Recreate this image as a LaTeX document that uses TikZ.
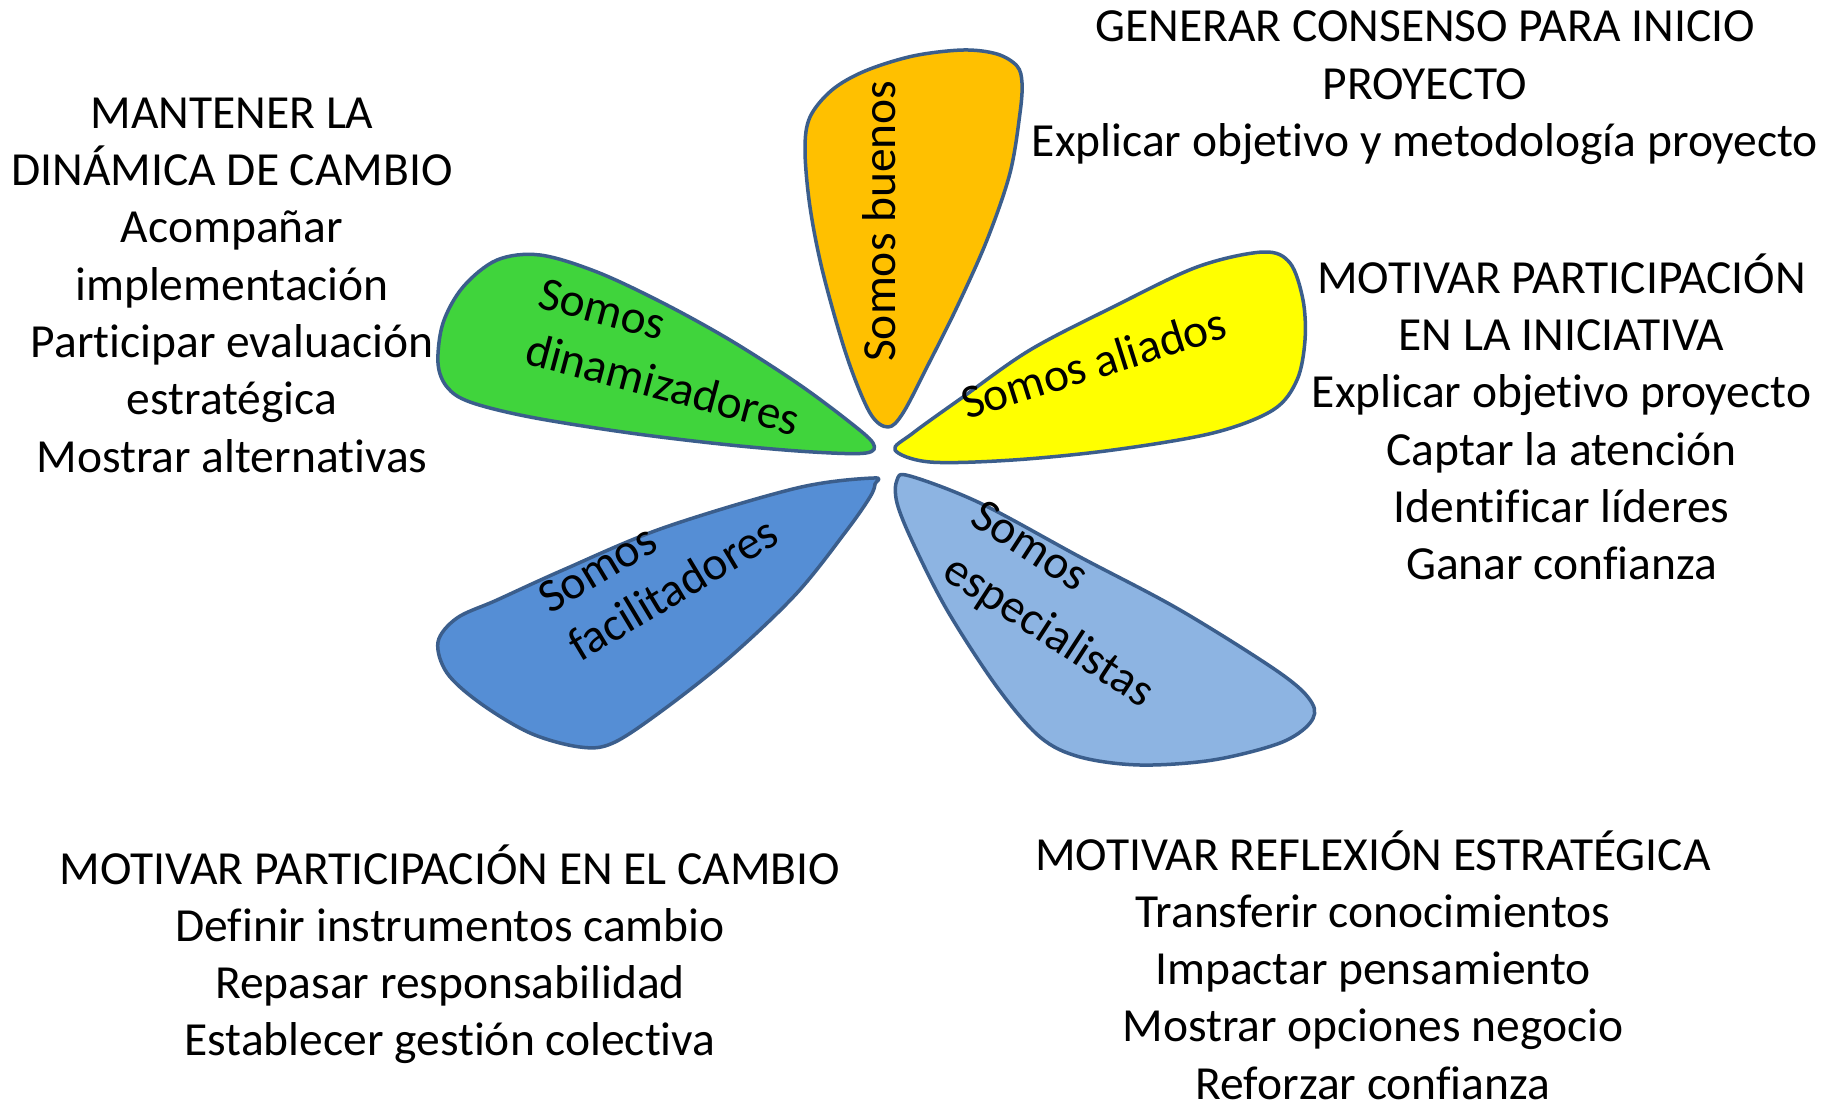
\documentclass[tikz,border=0pt]{standalone}
\usepackage{fontspec}
\setmainfont{Carlito}[Ligatures={NoCommon}]
\definecolor{edgec}{RGB}{59,94,140}
\definecolor{orangec}{RGB}{255,192,0}
\definecolor{greenc}{RGB}{64,212,60}
\definecolor{yellowc}{RGB}{255,255,0}
\definecolor{bluec}{RGB}{85,142,213}
\definecolor{lbluec}{RGB}{141,180,226}
\begin{document}
\begin{tikzpicture}[x=1pt,y=-1pt,
  petal/.style={draw=edgec, line width=3.5pt, line join=round},
  txt/.style={inner sep=0pt, anchor=base, font=\fontsize{47.5}{57.3}\selectfont},
  ptxt/.style={inner sep=0pt, anchor=base west, font=\fontsize{47.5}{57.3}\selectfont}]
\useasboundingbox (0,0) rectangle (1835,1103);
\fill[white] (0,0) rectangle (1835,1103);

% petals
\draw[petal, fill=orangec] plot[smooth cycle, tension=0.55] coordinates {
 (888,427) (870,413) (847,357) (823,273) (810,207) (805,150) (810,117) (832,90)
 (865,71) (913,56) (963,50) (997,54) (1017,66) (1022,83) (1020,113) (1010,173)
 (987,240) (957,307) (927,367) (903,413)};
\draw[petal, fill=greenc] plot[smooth cycle, tension=0.55] coordinates {
 (873,443) (847,420) (797,383) (730,340) (663,303) (597,272) (540,255) (497,260)
 (463,287) (443,323) (438,363) (447,387) (470,402) (530,417) (630,433) (730,445)
 (813,452) (866,453)};
\draw[petal, fill=yellowc] plot[smooth cycle, tension=0.55] coordinates {
 (895,450) (913,433) (963,397) (1030,350) (1113,307) (1197,267) (1263,252)
 (1290,263) (1303,300) (1305,340) (1297,380) (1273,410) (1213,433) (1113,450)
 (1013,460) (930,462)};
\draw[petal, fill=bluec] plot[smooth cycle, tension=0.55] coordinates {
 (873,478) (797,488) (663,528) (563,570) (497,600) (457,618) (438,642) (447,673)
 (480,703) (530,733) (580,747) (613,743) (663,710) (730,657) (797,593) (847,530)
 (870,497) (875,484)};
\draw[petal, fill=lbluec] plot[smooth cycle, tension=0.55] coordinates {
 (897,480) (910,476) (980,503) (1080,557) (1180,610) (1280,673) (1312,703)
 (1310,723) (1280,743) (1213,760) (1140,765) (1080,757) (1040,737) (997,687)
 (947,610) (913,543) (897,503)};

% petal labels
\node[ptxt, rotate=90] (buenos) at (895,362) {Somos buenos};
\node[ptxt, rotate=-15] (dinA) at (536,307) {Somos};
\node[ptxt, rotate=-15] (dinB) at (523,363) {dinamizadores};
\node[ptxt, rotate=17.5] (aliados) at (967,420) {Somos aliados};
\node[ptxt, rotate=31] (facA) at (550,615) {Somos};
\node[ptxt, rotate=31] (facB) at (580,663) {facilitadores};
\node[ptxt, rotate=-33] (espA) at (968,523) {Somos};
\node[ptxt, rotate=-33] (espB) at (940,577) {especialistas};

% top right block
\node[txt] (tr1) at (1425,41.7) {GENERAR CONSENSO PARA INICIO};
\node[txt] (tr2) at (1425,99) {PROYECTO};
\node[txt] (tr3) at (1425,156.3) {Explicar objetivo y metodología proyecto};

% left block
\node[txt] (l1) at (232,128.3) {MANTENER LA};
\node[txt] (l2) at (232,185.6) {DINÁMICA DE CAMBIO};
\node[txt] (l3) at (232,242.9) {Acompañar};
\node[txt] (l4) at (232,300.2) {implementación};
\node[txt] (l5) at (232,357.5) {Participar evaluación};
\node[txt] (l6) at (232,414.8) {estratégica};
\node[txt] (l7) at (232,472.1) {Mostrar alternativas};

% right block
\node[txt] (r1) at (1561.5,293.3) {MOTIVAR PARTICIPACIÓN};
\node[txt] (r2) at (1561.5,350.6) {EN LA INICIATIVA};
\node[txt] (r3) at (1561.5,407.9) {Explicar objetivo proyecto};
\node[txt] (r4) at (1561.5,465.2) {Captar la atención};
\node[txt] (r5) at (1561.5,522.5) {Identificar líderes};
\node[txt] (r6) at (1561.5,579.8) {Ganar confianza};

% bottom left block
\node[txt] (bl1) at (450,884) {MOTIVAR PARTICIPACIÓN EN EL CAMBIO};
\node[txt] (bl2) at (450,941.3) {Definir instrumentos cambio};
\node[txt] (bl3) at (450,998.6) {Repasar responsabilidad};
\node[txt] (bl4) at (450,1055.9) {Establecer gestión colectiva};

% bottom right block
\node[txt] (br1) at (1373,870) {MOTIVAR REFLEXIÓN ESTRATÉGICA};
\node[txt] (br2) at (1373,927.3) {Transferir conocimientos};
\node[txt] (br3) at (1373,984.6) {Impactar pensamiento};
\node[txt] (br4) at (1373,1041.9) {Mostrar opciones negocio};
\node[txt] (br5) at (1373,1099.2) {Reforzar confianza};
\end{tikzpicture}
\end{document}
